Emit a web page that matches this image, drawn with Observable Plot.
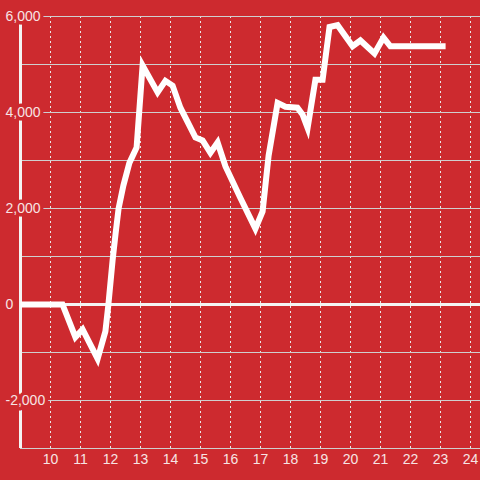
<!DOCTYPE html>
<html><head><meta charset="utf-8">
<script src="https://cdn.jsdelivr.net/npm/d3@7"></script>
<script src="https://cdn.jsdelivr.net/npm/@observablehq/plot@0.6"></script>
<style>
html,body{margin:0;padding:0;background:#cd2a2f;}
</style></head><body><div id="chart"></div>
<script>
const hours = [9, 10.4, 10.83, 11.07, 11.57, 11.83, 11.93, 12.07, 12.17, 12.27, 12.43, 12.63, 12.87, 13.07, 13.57, 13.83, 14.07, 14.33, 14.83, 15.07, 15.33, 15.57, 15.83, 16.33, 16.83, 17.07, 17.27, 17.57, 17.83, 18.23, 18.4, 18.57, 18.83, 19.07, 19.3, 19.57, 20.07, 20.33, 20.8, 21.1, 21.33, 23.17];
const values = [0, 0, -680, -520, -1130, -560, 0, 920, 1480, 2000, 2480, 2950, 3270, 4980, 4420, 4660, 4560, 4100, 3480, 3420, 3160, 3375, 2880, 2220, 1580, 1940, 3100, 4200, 4120, 4100, 3960, 3680, 4680, 4680, 5780, 5820, 5380, 5500, 5230, 5560, 5380, 5380];
const xTicks = [10, 11, 12, 13, 14, 15, 16, 17, 18, 19, 20, 21, 22, 23, 24];
const yGrid = [-3000, -2000, -1000, 0, 1000, 2000, 3000, 4000, 5000, 6000];
const yLabels = [-2000, 0, 2000, 4000, 6000];

const data = hours.map((h, i) => ({h, v: values[i]}));
const bg = "#cd2a2f";
const txt = "#f7e4e4";
const fmt = d => d3.format(",")(d).replace("\u2212", "-");
const chart = Plot.plot({
  width: 480, height: 480,
  marginTop: 16, marginBottom: 32, marginLeft: 20, marginRight: 10,
  style: {background: bg, fontFamily: "'Liberation Sans', Arial, sans-serif", fontSize: "14px", color: txt},
  x: {domain: [9, 24], label: null},
  y: {domain: [-3000, 6000], axis: null, label: null},
  marks: [
    Plot.ruleX(xTicks, {x: d => d, y1: -3000, y2: 6000, stroke: "#e8e8e8", strokeDasharray: "2,3", strokeWidth: 1}),
    Plot.ruleY(yGrid, {y: d => d, x1: 9, x2: 24.4, stroke: "#cfcfcf", strokeWidth: 1}),
    Plot.ruleY([0], {y: d => d, x1: 9, x2: 24.4, stroke: "#f4f4f4", strokeWidth: 3}),
    Plot.ruleX([9], {x: d => d, y1: -3000, y2: 6000, stroke: "#f4f4f4", strokeWidth: 3}),
    Plot.line(data, {x: "h", y: "v", stroke: "white", strokeWidth: 6, strokeLinejoin: "miter", strokeLinecap: "butt", strokeMiterlimit: 4}),
    Plot.text(yLabels, {y: d => d, text: fmt, frameAnchor: "left", dx: -15, textAnchor: "start", fill: txt, stroke: bg, strokeWidth: 7, fontSize: 14}),
    Plot.axisX(xTicks, {tickSize: 0, tickPadding: 6, fill: txt, fontSize: 14, tickFormat: d => String(d), label: null})
  ]
});
document.getElementById("chart").appendChild(chart);
</script></body></html>
